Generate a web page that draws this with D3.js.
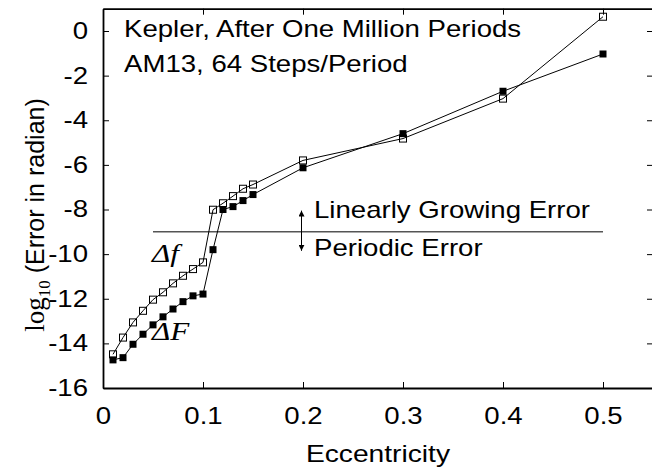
<!DOCTYPE html>
<meta charset="utf-8">
<style>
  body { margin: 0; background: white; }
  .sans { font-family: "Liberation Sans", Arial, sans-serif; fill: black; }
  .serif { font-family: "Liberation Serif", "Times New Roman", serif; fill: black; }
  .axis path, .axis line { stroke: black; }
</style>
<script src="https://cdn.jsdelivr.net/npm/d3@7"></script>
<body>
<script>

  var w = 652;
  var h = 472;
  var sx = 1.2; // the original figure is a bit wider than tall

  // eccentricity values
  var ecc = [0.01, 0.02, 0.03, 0.04, 0.05, 0.06, 0.07, 0.08, 0.09, 0.10,
             0.11, 0.12, 0.13, 0.14, 0.15, 0.2, 0.3, 0.4, 0.5];
  // log10 error, delta f (open squares)
  var errSmallF = [-14.49, -13.74, -13.06, -12.54, -12.04, -11.71, -11.31, -10.97, -10.67, -10.37,
                   -8.01, -7.72, -7.40, -7.07, -6.88, -5.80, -4.82, -3.03, 0.64];
  // log10 error, delta F (filled squares)
  var errBigF = [-14.74, -14.64, -14.04, -13.59, -13.17, -12.81, -12.46, -12.13, -11.87, -11.79,
                 -9.80, -8.00, -7.87, -7.60, -7.33, -6.13, -4.60, -2.70, -1.03];

  var xTicks = [0, 0.1, 0.2, 0.3, 0.4, 0.5];
  var xTickLabels = ["0", "0.1", "0.2", "0.3", "0.4", "0.5"];
  var yTicks = [0, -2, -4, -6, -8, -10, -12, -14, -16];
  var yTickLabels = ["0", "-2", "-4", "-6", "-8", "-10", "-12", "-14", "-16"];

  var svg = d3.select("body").append("svg")
              .attr("width", w)
              .attr("height", h);

  var x = d3.scaleLinear().domain([0, 0.55]).range([103, 653]);
  var y = d3.scaleLinear().domain([-16, 1]).range([388, 8.7]);

  // axes, ticks pointing inward
  var bottom = svg.append("g").attr("class", "axis")
      .attr("transform", "translate(0," + y(-16) + ")")
      .call(d3.axisBottom(x).tickValues(xTicks)
              .tickFormat(function (d, i) { return xTickLabels[i]; })
              .tickSizeInner(-6).tickSizeOuter(0).tickPadding(20));
  bottom.selectAll("text")
      .attr("class", "sans").style("font-size", "23px")
      .attr("transform", "scale(" + sx + ",1)");

  var left = svg.append("g").attr("class", "axis")
      .attr("transform", "translate(" + x(0) + ",0)")
      .call(d3.axisLeft(y).tickValues(yTicks)
              .tickFormat(function (d, i) { return yTickLabels[i]; })
              .tickSizeInner(-6).tickSizeOuter(0));
  left.selectAll("text")
      .attr("class", "sans").style("font-size", "23px")
      .attr("x", -15 / sx)
      .attr("transform", "scale(" + sx + ",1)");

  svg.append("g").attr("class", "axis")
      .attr("transform", "translate(0," + y(1) + ")")
      .call(d3.axisTop(x).tickValues(xTicks).tickFormat("").tickSizeInner(-6).tickSizeOuter(0));
  svg.append("g").attr("class", "axis")
      .attr("transform", "translate(" + x(0.55) + ",0)")
      .call(d3.axisRight(y).tickValues(yTicks).tickFormat("").tickSizeInner(-6).tickSizeOuter(0));
  svg.selectAll(".axis").attr("font-family", null).attr("font-size", null);
  svg.selectAll(".axis path").attr("stroke-width", 1.8);

  // divider between the two error regimes
  svg.append("line")
     .attr("x1", x(0.05)).attr("x2", x(0.5))
     .attr("y1", y(-9)).attr("y2", y(-9))
     .attr("stroke", "#555").attr("stroke-width", 1.5);

  svg.append("defs").append("marker")
     .attr("id", "head")
     .attr("viewBox", "0 0 10 10")
     .attr("refX", 10).attr("refY", 5)
     .attr("markerWidth", 6).attr("markerHeight", 6)
     .attr("orient", "auto-start-reverse")
     .append("path").attr("d", "M0,0 L10,5 L0,10 z").attr("fill", "black");

  svg.append("line")
     .attr("x1", x(0.1985)).attr("x2", x(0.1985))
     .attr("y1", y(-8.05)).attr("y2", y(-9.85))
     .attr("stroke", "black").attr("stroke-width", 1)
     .attr("marker-start", "url(#head)")
     .attr("marker-end", "url(#head)");

  var line = d3.line()
      .x(function (d, i) { return x(ecc[i]); })
      .y(function (d) { return y(d); });

  svg.append("path").datum(errSmallF)
     .attr("d", line).attr("fill", "none").attr("stroke", "black").attr("stroke-width", 1);
  svg.append("path").datum(errBigF)
     .attr("d", line).attr("fill", "none").attr("stroke", "black").attr("stroke-width", 1);

  var s = 7;
  svg.selectAll(".open").data(errSmallF).enter().append("rect")
     .attr("class", "open")
     .attr("x", function (d, i) { return x(ecc[i]) - s / 2; })
     .attr("y", function (d) { return y(d) - s / 2; })
     .attr("width", s).attr("height", s)
     .attr("fill", "none").attr("stroke", "black").attr("stroke-width", 1);
  svg.selectAll(".filled").data(errBigF).enter().append("rect")
     .attr("class", "filled")
     .attr("x", function (d, i) { return x(ecc[i]) - s / 2; })
     .attr("y", function (d) { return y(d) - s / 2; })
     .attr("width", s).attr("height", s)
     .attr("fill", "black");

  function label(str, px, py, size, cls, italic) {
    var t = svg.append("text")
       .attr("class", cls)
       .attr("transform", "translate(" + px + "," + py + ") scale(" + sx + ",1)")
       .style("font-size", size + "px")
       .text(str);
    if (italic) t.style("font-style", "italic");
    return t;
  }

  label("Kepler, After One Million Periods", 124, 37, 23, "sans");
  label("AM13, 64 Steps/Period", 124, 72, 23, "sans");
  label("Linearly Growing Error", 314, 218, 23, "sans");
  label("Periodic Error", 314, 256, 23, "sans");
  label("\u0394f", 152, 262, 26, "serif", true);
  label("\u0394F", 152, 340, 26, "serif", true);

  label("Eccentricity", 378, 462, 23.5, "sans").attr("text-anchor", "middle");

  var yl = svg.append("text")
     .attr("transform", "translate(44,215) rotate(-90)")
     .attr("text-anchor", "middle")
     .style("font-size", "25px");
  yl.append("tspan").attr("class", "serif").style("font-size", "27px").text("log");
  yl.append("tspan").attr("class", "serif").attr("dy", 6).style("font-size", "17px").text("10");
  yl.append("tspan").attr("class", "sans").attr("dy", -6).text(" (Error in radian)");

</script>
</body>
